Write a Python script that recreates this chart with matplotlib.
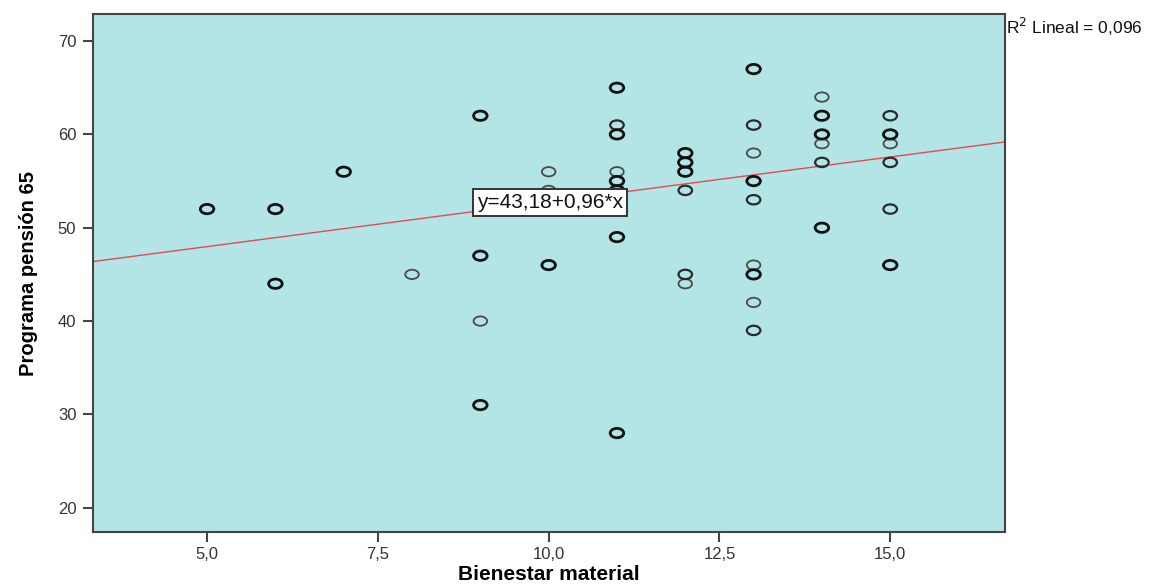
import matplotlib
matplotlib.use("Agg")
import matplotlib.pyplot as plt
import numpy as np
from matplotlib.path import Path
from matplotlib.markers import MarkerStyle

# ---- data ----
x_vals = [5, 6, 6, 7, 8,
          9, 9, 9, 9,
          10, 10, 10,
          11, 11, 11, 11, 11, 11, 11, 11,
          12, 12, 12, 12, 12, 12,
          13, 13, 13, 13, 13, 13, 13, 13, 13,
          14, 14, 14, 14, 14, 14,
          15, 15, 15, 15, 15, 15]
y_vals = [52, 52, 44, 56, 45,
          62, 47, 40, 31,
          56, 54, 46,
          65, 61, 60, 56, 55, 54, 49, 28,
          58, 57, 56, 54, 45, 44,
          67, 61, 58, 55, 53, 46, 45, 42, 39,
          64, 62, 60, 59, 57, 50,
          62, 60, 59, 57, 52, 46]
counts = [3, 3, 3, 3, 1,
          3, 3, 1, 3,
          1, 1, 3,
          3, 2, 3, 1, 3, 3, 3, 3,
          3, 3, 3, 2, 2, 1,
          3, 2, 1, 3, 2, 1, 3, 1, 2,
          1, 3, 3, 1, 2, 3,
          2, 3, 1, 2, 2, 3]
intercept = 43.18
slope = 0.96
r2_text = "0,096"
x_ticks = [5.0, 7.5, 10.0, 12.5, 15.0]
x_ticklabels = ["5,0", "7,5", "10,0", "12,5", "15,0"]
y_ticks = [20, 30, 40, 50, 60, 70]
x_label = "Bienestar material"
y_label = "Programa pensión 65"

# ---- figure ----
W, H, DPI = 1165, 585, 100
fig = plt.figure(figsize=(W / DPI, H / DPI), dpi=DPI)
ax = fig.add_axes([93 / W, 1 - 532 / H, (1005 - 93) / W, (532 - 14) / H])
bg = "#b4e5e6"
ax.set_facecolor(bg)
ax.set_xlim(3.33, 16.68)
ax.set_ylim(17.4, 72.9)

# elliptical marker (circles in reference are wider than tall)
circ = Path.unit_circle()
ell = Path(circ.vertices * np.array([1.45, 1.0]), circ.codes)
marker = MarkerStyle(ell)

xa = np.array(x_vals, dtype=float)
ya = np.array(y_vals, dtype=float)
ca = np.array(counts)
for level, (lw, col) in {1: (1.3, "#4a4a4a"), 2: (1.6, "#2a2a2a"), 3: (2.0, "#111111")}.items():
    m = ca == level
    ax.scatter(xa[m], ya[m], marker=marker, s=95, facecolors="none",
               edgecolors=col, linewidths=lw, zorder=3)

# regression line
xl = np.array(ax.get_xlim())
ax.plot(xl, intercept + slope * xl, color="#e8474f", lw=1.0, zorder=2)

eq = "y=" + f"{intercept:.2f}".replace(".", ",") + "+" + f"{slope:.2f}".replace(".", ",") + "*x"
ax.text(10.02, 52.7, eq,
        ha="center", va="center", fontsize=15, family="Liberation Sans", color="#111111",
        bbox=dict(boxstyle="square,pad=0.18", fc="white", ec="#333333", lw=1.4), zorder=4)

for sp in ax.spines.values():
    sp.set_color("#444444")
    sp.set_linewidth(1.5)

ax.set_xticks(x_ticks)
ax.set_xticklabels(x_ticklabels)
ax.set_yticks(y_ticks)
ax.tick_params(axis="both", direction="out", length=7, width=1.5, color="#444444",
               labelsize=12, labelcolor="#333333")
for lab in ax.get_xticklabels() + ax.get_yticklabels():
    lab.set_family("Liberation Sans")
ax.tick_params(axis="x", pad=4)
ax.tick_params(axis="y", pad=5)

ax.set_ylabel(y_label, family="Liberation Sans", fontweight="bold", fontsize=14.5, labelpad=14)
fig.text((428 + 670) / 2 / W, 1 - 574 / H, x_label, ha="center", va="center",
         family="Liberation Sans", fontweight="bold", fontsize=15)

fig.text(1006 / W, 1 - 27 / H, "R$^2$ Lineal = " + r2_text, ha="left", va="center",
         family="Liberation Sans", fontsize=12.5, color="#111111")

fig.savefig("out.png", dpi=DPI)
